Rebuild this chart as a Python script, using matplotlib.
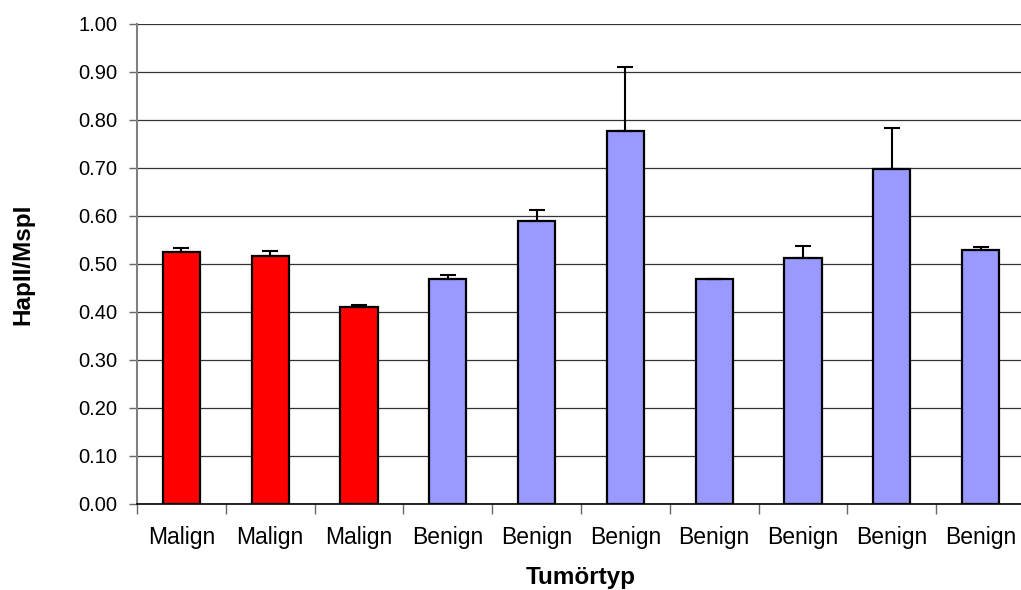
import matplotlib
matplotlib.use("Agg")
import matplotlib.pyplot as plt
import numpy as np

categories = ["Malign", "Malign", "Malign", "Benign", "Benign", "Benign", "Benign", "Benign", "Benign", "Benign"]
values = [0.525, 0.517, 0.411, 0.468, 0.590, 0.777, 0.468, 0.512, 0.697, 0.530]
errors = [0.008, 0.010, 0.003, 0.008, 0.023, 0.134, 0.0, 0.025, 0.087, 0.006]
colors = ["#FF0000"] * 3 + ["#9999FF"] * 7

plt.rcParams['font.family'] = ['Liberation Sans', 'DejaVu Sans']

fig = plt.figure(figsize=(10.21, 5.90), dpi=100)
ax = fig.add_axes([0.1342, 0.1458, 0.8697, 0.8136])

x = np.arange(len(categories))
ax.set_axisbelow(True)
ax.yaxis.grid(True, color="#333333", linewidth=0.9)
ax.bar(x, values, width=0.42, color=colors, edgecolor="black", linewidth=1.6, zorder=2)
ax.errorbar(x, values, yerr=[np.zeros(len(errors)), errors], fmt="none", ecolor="black",
            elinewidth=1.5, capsize=5.5, capthick=1.5, zorder=3)

ax.set_xlim(-0.5, len(categories) - 0.5)
ax.set_ylim(0, 1.0)
yt = np.arange(0, 1.01, 0.1)
ax.set_yticks(yt)
ax.set_yticklabels([f"{v:.2f}" for v in yt], fontsize=14.5)
ax.set_xticks(x)
ax.set_xticklabels(categories, fontsize=16.5)
ax.tick_params(axis="x", length=0, pad=16)
ax.set_xticks(np.arange(-0.5, len(categories), 1.0), minor=True)
ax.tick_params(axis="x", which="minor", length=7, width=1.0, color="#666666")
ax.tick_params(axis="y", length=6, width=1.0, color="#666666", pad=8)

for s in ["top", "right"]:
    ax.spines[s].set_visible(False)
ax.spines["left"].set_color("#808080")
ax.spines["left"].set_linewidth(1.5)
ax.spines["bottom"].set_color("black")
ax.spines["bottom"].set_linewidth(1.2)

ax.set_xlabel("Tumörtyp", fontsize=17.5, fontweight="bold")
ax.set_ylabel("HapII/MspI", fontsize=17.5, fontweight="bold")
ax.xaxis.set_label_coords(0.5, -0.13)
ax.yaxis.set_label_coords(-0.116, 0.5)

fig.savefig("out.png", dpi=100)
